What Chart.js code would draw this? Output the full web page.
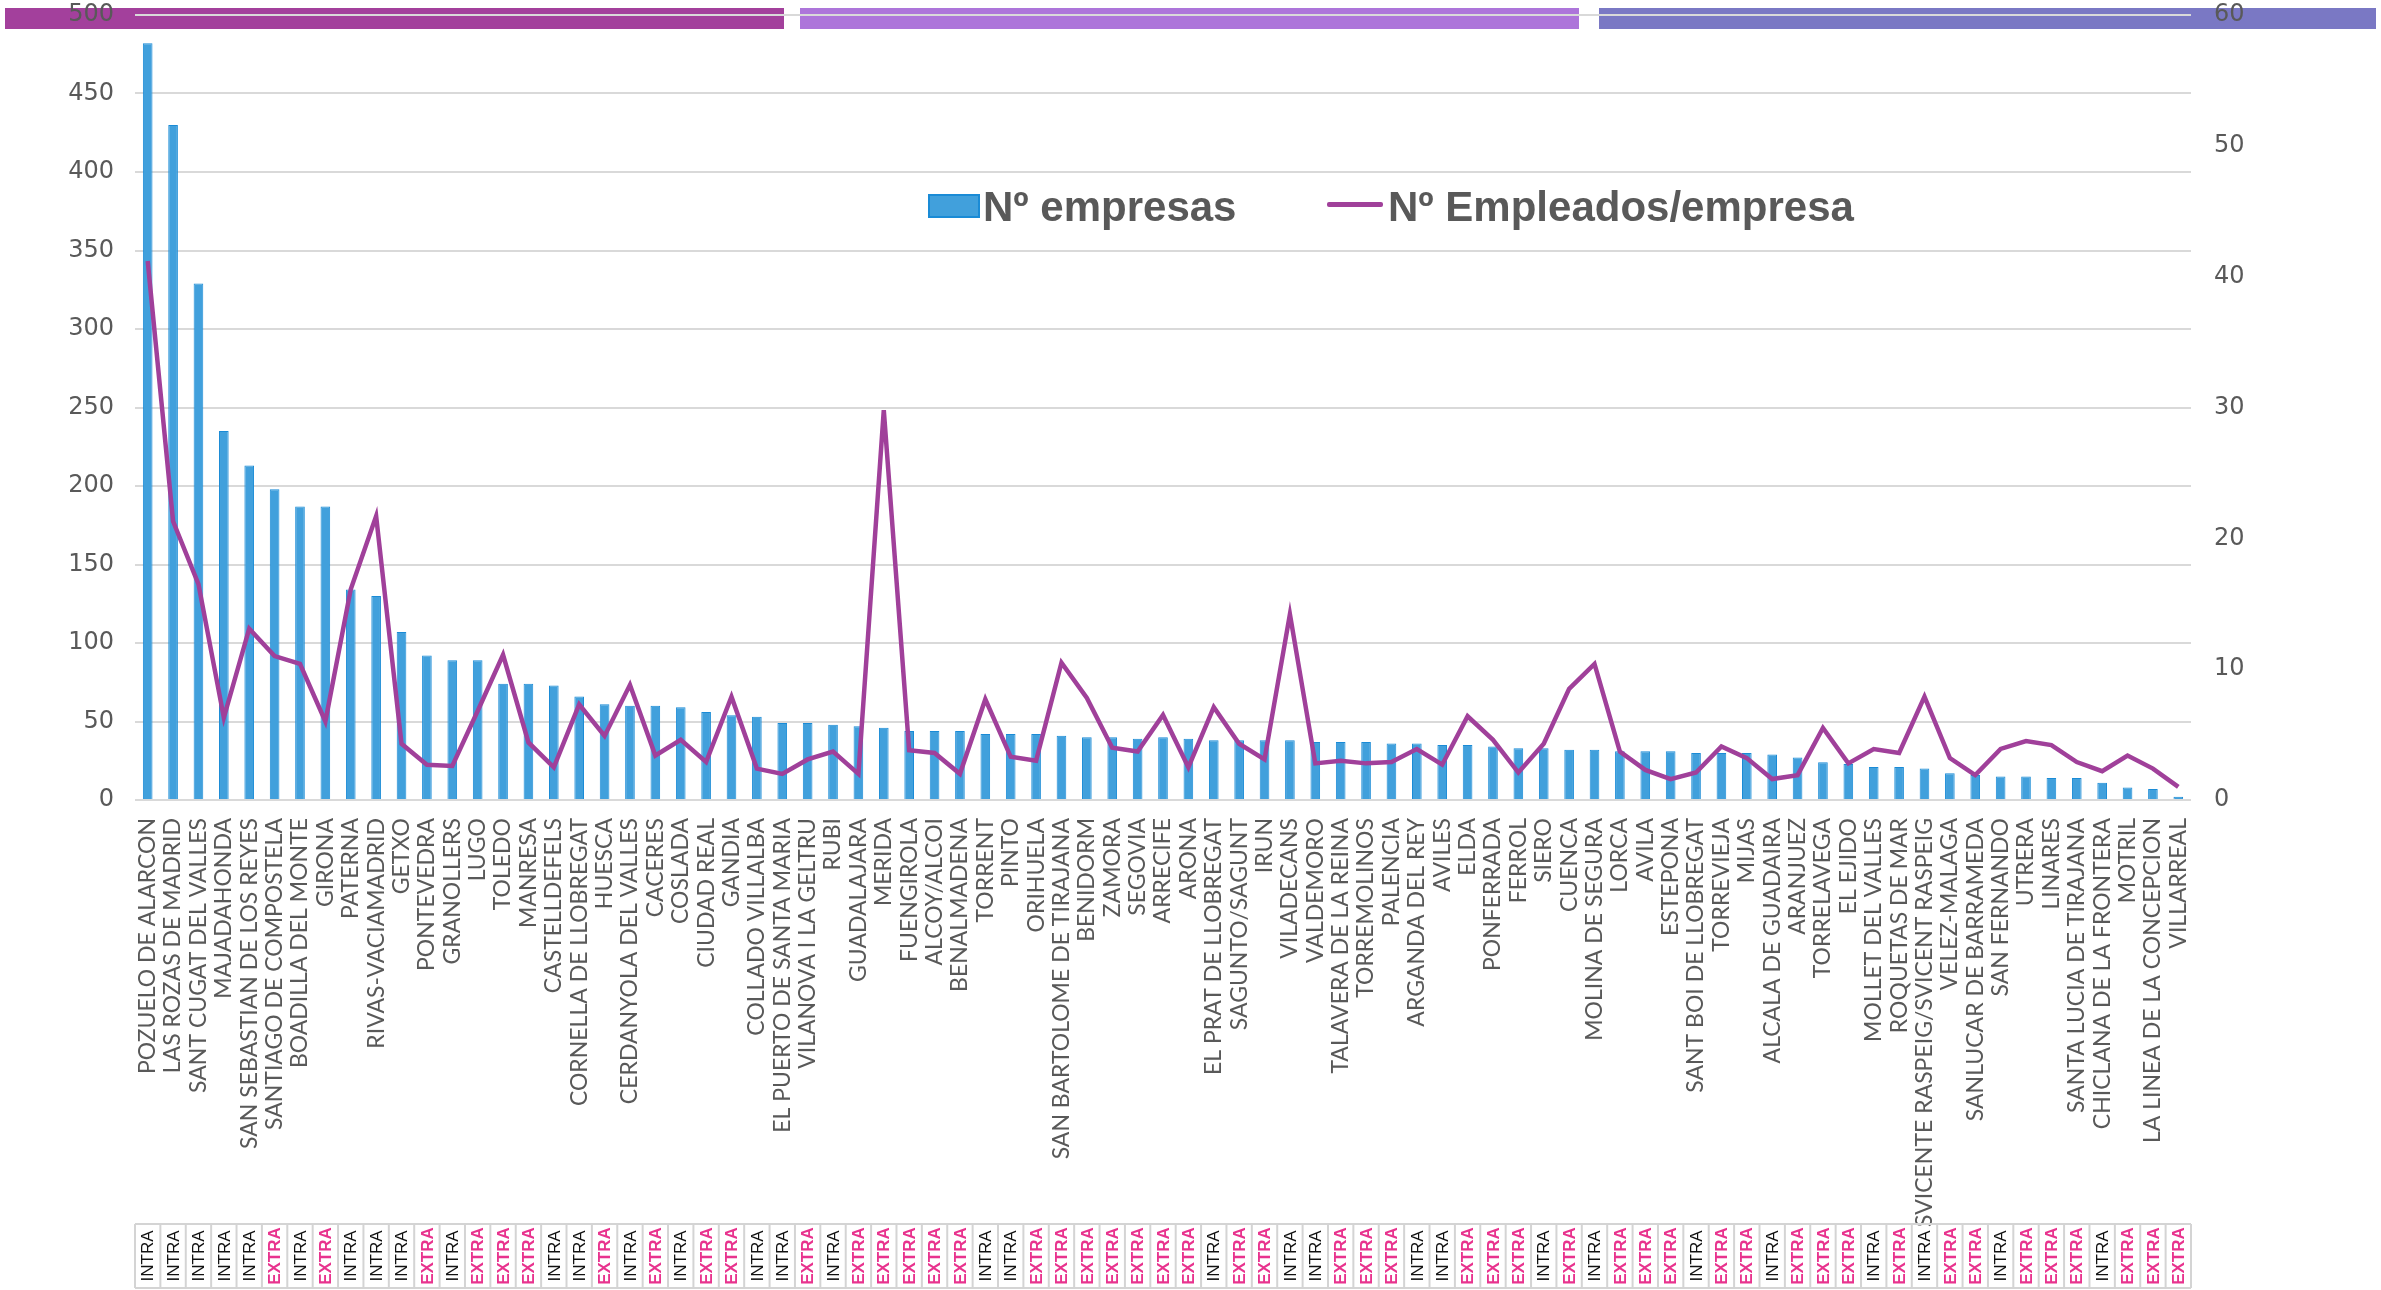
<!DOCTYPE html>
<html>
<head>
<meta charset="utf-8">
<script src="https://cdn.jsdelivr.net/npm/chart.js@4.4.1/dist/chart.umd.min.js"></script>
<style>
  html, body { margin: 0; padding: 0; background: #ffffff; }
  #wrap { position: relative; width: 2381px; height: 1290px; overflow: hidden; background: #ffffff; }
  .band { position: absolute; top: 8px; height: 21px; }
  #c { position: absolute; left: 0; top: 0; }
  .lg { position: absolute; font-family: "Liberation Sans", Arial, sans-serif; font-weight: bold; font-size: 42px; color: #595959; line-height: 42px; white-space: nowrap; }
  .key-box { position: absolute; background: #41A0DC; border: 2px solid #1a8bd6; box-sizing: border-box; }
  .key-line { position: absolute; background: #A0409A; border-radius: 2px; }
</style>
</head>
<body>
<div id="wrap">
  <div class="band" style="left:5px;width:779px;background:#A3409C"></div>
  <div class="band" style="left:800px;width:779px;background:#AD75DA"></div>
  <div class="band" style="left:1599px;width:777px;background:#7A78C4"></div>
  <canvas id="c" width="2381" height="1290"></canvas>
  <div class="key-box" style="left:928px;top:194px;width:52px;height:24px"></div>
  <div class="lg" style="left:983px;top:186px">Nº empresas</div>
  <div class="key-line" style="left:1327px;top:202px;width:56px;height:5px"></div>
  <div class="lg" style="left:1388px;top:186px">Nº Empleados/empresa</div>
</div>
<script>
const categories = [
  "POZUELO DE ALARCON","LAS ROZAS DE MADRID","SANT CUGAT DEL VALLES","MAJADAHONDA",
  "SAN SEBASTIAN DE LOS REYES","SANTIAGO DE COMPOSTELA","BOADILLA DEL MONTE","GIRONA",
  "PATERNA","RIVAS-VACIAMADRID","GETXO","PONTEVEDRA","GRANOLLERS","LUGO","TOLEDO",
  "MANRESA","CASTELLDEFELS","CORNELLA DE LLOBREGAT","HUESCA","CERDANYOLA DEL VALLES",
  "CACERES","COSLADA","CIUDAD REAL","GANDIA","COLLADO VILLALBA","EL PUERTO DE SANTA MARIA",
  "VILANOVA I LA GELTRU","RUBI","GUADALAJARA","MERIDA","FUENGIROLA","ALCOY/ALCOI",
  "BENALMADENA","TORRENT","PINTO","ORIHUELA","SAN BARTOLOME DE TIRAJANA","BENIDORM",
  "ZAMORA","SEGOVIA","ARRECIFE","ARONA","EL PRAT DE LLOBREGAT","SAGUNTO/SAGUNT","IRUN",
  "VILADECANS","VALDEMORO","TALAVERA DE LA REINA","TORREMOLINOS","PALENCIA",
  "ARGANDA DEL REY","AVILES","ELDA","PONFERRADA","FERROL","SIERO","CUENCA",
  "MOLINA DE SEGURA","LORCA","AVILA","ESTEPONA","SANT BOI DE LLOBREGAT","TORREVIEJA",
  "MIJAS","ALCALA DE GUADAIRA","ARANJUEZ","TORRELAVEGA","EL EJIDO","MOLLET DEL VALLES",
  "ROQUETAS DE MAR","SVICENTE RASPEIG/SVICENT RASPEIG","VELEZ-MALAGA",
  "SANLUCAR DE BARRAMEDA","SAN FERNANDO","UTRERA","LINARES","SANTA LUCIA DE TIRAJANA",
  "CHICLANA DE LA FRONTERA","MOTRIL","LA LINEA DE LA CONCEPCION","VILLARREAL"
];

const empresas = [
  482, 430, 329, 235, 213, 198, 187, 187, 134, 130,
  107, 92, 89, 89, 74, 74, 73, 66, 61, 60,
  60, 59, 56, 54, 53, 49, 49, 48, 47, 46,
  44, 44, 44, 42, 42, 42, 41, 40, 40, 39,
  40, 39, 38, 38, 38, 38, 37, 37, 37, 36,
  36, 35, 35, 34, 33, 33, 32, 32, 31, 31,
  31, 30, 30, 30, 29, 27, 24, 23, 21, 21,
  20, 17, 16, 15, 15, 14, 14, 11, 8, 7,
  2
];

const empleadosPorEmpresa = [
  41.2, 21.3, 16.5, 6.3, 13.1, 11.0, 10.4, 6.0, 16.1, 21.7,
  4.3, 2.7, 2.6, 6.8, 11.1, 4.4, 2.5, 7.3, 4.9, 8.8,
  3.4, 4.6, 2.9, 7.9, 2.4, 2.0, 3.1, 3.7, 2.0, 29.8,
  3.8, 3.6, 2.0, 7.7, 3.3, 3.0, 10.5, 7.8, 4.0, 3.7,
  6.5, 2.5, 7.1, 4.3, 3.1, 14.2, 2.8, 3.0, 2.8, 2.9,
  3.9, 2.7, 6.4, 4.6, 2.1, 4.3, 8.5, 10.4, 3.7, 2.3,
  1.6, 2.1, 4.1, 3.2, 1.6, 1.9, 5.5, 2.8, 3.9, 3.6,
  7.9, 3.2, 1.9, 3.9, 4.5, 4.2, 2.9, 2.2, 3.4, 2.4,
  1.0
];

const tipo = [
  "INTRA","INTRA","INTRA","INTRA","INTRA","EXTRA","INTRA","EXTRA","INTRA","INTRA",
  "INTRA","EXTRA","INTRA","EXTRA","EXTRA","EXTRA","INTRA","INTRA","EXTRA","INTRA",
  "EXTRA","INTRA","EXTRA","EXTRA","INTRA","INTRA","EXTRA","INTRA","EXTRA","EXTRA",
  "EXTRA","EXTRA","EXTRA","INTRA","INTRA","EXTRA","EXTRA","EXTRA","EXTRA","EXTRA",
  "EXTRA","EXTRA","INTRA","EXTRA","EXTRA","INTRA","INTRA","EXTRA","EXTRA","EXTRA",
  "INTRA","INTRA","EXTRA","EXTRA","EXTRA","INTRA","EXTRA","INTRA","EXTRA","EXTRA",
  "EXTRA","INTRA","EXTRA","EXTRA","INTRA","EXTRA","EXTRA","EXTRA","INTRA","EXTRA",
  "INTRA","EXTRA","EXTRA","INTRA","EXTRA","EXTRA","EXTRA","INTRA","EXTRA","EXTRA",
  "EXTRA"
];

const seriesNames = ["Nº empresas", "Nº Empleados/empresa"];

const tipoRow = {
  id: 'tipoRow',
  afterDraw(chart) {
    const ctx = chart.ctx;
    const xs = chart.scales.x;
    const top = chart.chartArea.bottom + 424;
    const bottom = top + 64;
    const step = xs.getPixelForValue(1) - xs.getPixelForValue(0);
    ctx.save();
    ctx.strokeStyle = '#d4d4d4';
    ctx.lineWidth = 2;
    const x0 = xs.getPixelForValue(0) - step / 2;
    const x1 = xs.getPixelForValue(tipo.length - 1) + step / 2;
    ctx.beginPath();
    ctx.moveTo(x0, top); ctx.lineTo(x1, top);
    ctx.moveTo(x0, bottom); ctx.lineTo(x1, bottom);
    for (let i = 0; i <= tipo.length; i++) {
      const x = xs.getPixelForValue(0) - step / 2 + i * step;
      ctx.moveTo(x, top); ctx.lineTo(x, bottom);
    }
    ctx.stroke();
    for (let i = 0; i < tipo.length; i++) {
      const cx = xs.getPixelForValue(i);
      const cy = (top + bottom) / 2;
      ctx.save();
      ctx.translate(cx, cy);
      ctx.rotate(-Math.PI / 2);
      ctx.textAlign = 'center';
      ctx.textBaseline = 'middle';
      if (tipo[i] === 'EXTRA') {
        ctx.fillStyle = '#E8338E';
        ctx.font = 'bold 17px "Liberation Sans", Arial, sans-serif';
      } else {
        ctx.fillStyle = '#111111';
        ctx.font = '17px "Liberation Sans", Arial, sans-serif';
      }
      ctx.fillText(tipo[i], 0, 1);
      ctx.restore();
    }
    ctx.restore();
  }
};

new Chart(document.getElementById('c'), {
  data: {
    labels: categories,
    datasets: [
      {
        type: 'line',
        label: seriesNames[1],
        data: empleadosPorEmpresa,
        yAxisID: 'y1',
        borderColor: '#A0409A',
        backgroundColor: '#A0409A',
        borderWidth: 4.5,
        pointRadius: 0,
        tension: 0,
        order: 0
      },
      {
        type: 'bar',
        label: seriesNames[0],
        data: empresas,
        yAxisID: 'y',
        backgroundColor: '#41A0DC',
        borderColor: '#1a8bd6',
        borderWidth: 1,
        categoryPercentage: 1,
        barPercentage: 0.38,
        order: 1
      }
    ]
  },
  options: {
    responsive: false,
    animation: false,
    devicePixelRatio: 1,
    layout: { padding: { top: 15, left: 0, right: 0, bottom: 0 } },
    plugins: { legend: { display: false }, tooltip: { enabled: false } },
    scales: {
      x: {
        type: 'category',
        grid: { display: false, drawTicks: false },
        border: { display: false },
        ticks: {
          autoSkip: false, maxRotation: 90, minRotation: 90, padding: 18,
          color: '#595959',
          font: { family: 'Lato, "Open Sans", sans-serif', size: 23 }
        },
        afterFit(s) { s.height = 490; s.paddingLeft = 0; s.paddingRight = 0; }
      },
      y: {
        position: 'left', min: 0, max: 500,
        ticks: { stepSize: 50, padding: 21, color: '#595959',
          font: { family: '"DejaVu Sans", sans-serif', size: 24 } },
        grid: { color: '#d9d9d9', lineWidth: 2, drawTicks: false },
        border: { display: false },
        afterFit(s) { s.width = 135; s.paddingTop = 0; s.paddingBottom = 0; }
      },
      y1: {
        position: 'right', min: 0, max: 60,
        ticks: { stepSize: 10, padding: 23, color: '#595959',
          font: { family: '"DejaVu Sans", sans-serif', size: 24 } },
        grid: { display: false, drawTicks: false },
        border: { display: false },
        afterFit(s) { s.width = 190; s.paddingTop = 0; s.paddingBottom = 0; }
      }
    }
  },
  plugins: [tipoRow]
});
</script>
</body>
</html>
